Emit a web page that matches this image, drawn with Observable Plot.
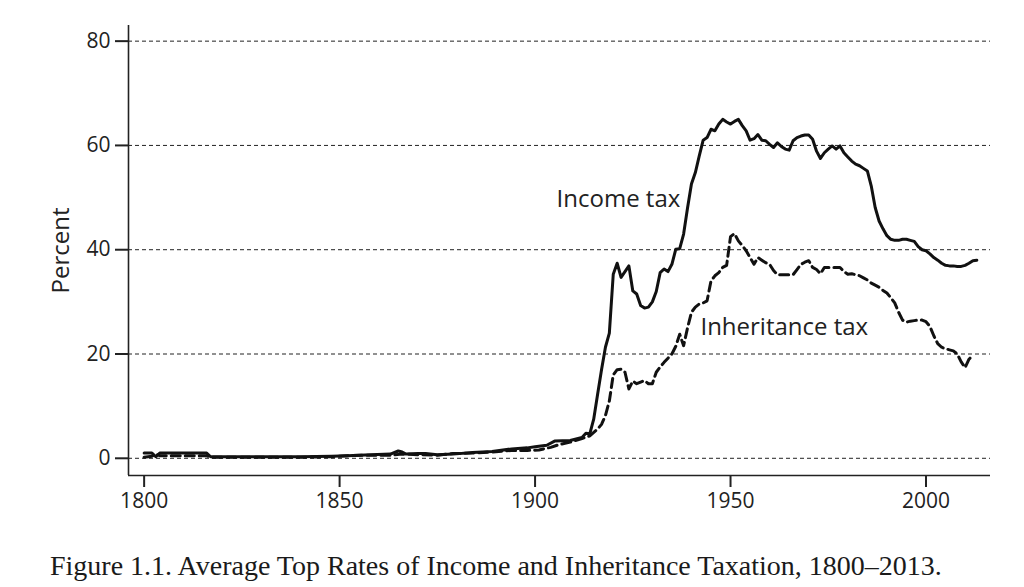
<!DOCTYPE html>
<html>
<head>
<meta charset="utf-8">
<script src="https://cdn.jsdelivr.net/npm/d3@7"></script>
<script src="https://cdn.jsdelivr.net/npm/@observablehq/plot@0.6"></script>
<style>
  html, body { margin: 0; padding: 0; background: #fff; }
  #wrap { position: relative; width: 1024px; height: 587px; }
  #caption {
    position: absolute; left: 50px; top: 549px;
    font-family: "Liberation Serif", serif; font-size: 28px; color: #1a1a1a;
    white-space: nowrap; line-height: 34px;
  }
</style>
</head>
<body>
<div id="wrap">
  <div id="chart"></div>
  <div id="caption">Figure 1.1. Average Top Rates of Income and Inheritance Taxation, 1800–2013.</div>
</div>
<script>
// Income tax: year / top rate (%)
const incomeYears = [1800,1802,1803,1804,1816,1817,1830,1840,1848,1852,1858,1863,1865,1866,1867,1870,1872,1875,1879,1884,1889,1894,1898,1900,1903,1905,1909,1912,1913,1914,1915,1916,1917,1918,1919,1920,1921,1922,1923,1924,1925,1926,1927,1928,1929,1930,1931,1932,1933,1934,1935,1936,1937,1938,1939,1940,1941,1942,1943,1944,1945,1946,1947,1948,1949,1950,1951,1952,1953,1954,1955,1956,1957,1958,1959,1960,1961,1962,1963,1964,1965,1966,1967,1968,1969,1970,1971,1972,1973,1974,1975,1976,1977,1978,1979,1980,1981,1982,1983,1984,1985,1986,1987,1988,1989,1990,1991,1992,1993,1994,1995,1996,1997,1998,1999,2000,2001,2002,2003,2004,2005,2006,2007,2008,2009,2010,2011,2012,2013];
const incomeValues = [1.0,1.0,0.3,1.0,1.0,0.3,0.3,0.3,0.4,0.5,0.7,0.8,1.4,1.2,0.8,0.9,0.9,0.7,0.8,1.1,1.3,1.8,2.0,2.2,2.5,3.3,3.4,4.0,4.8,4.7,7.5,12.3,17.0,21.3,24.0,35.3,37.4,34.7,35.8,36.9,32.1,31.5,29.3,28.8,29.0,30.0,32.0,35.6,36.3,35.8,37.2,40.1,40.2,43.0,48.0,52.6,54.8,58.0,61.0,61.5,63.1,62.8,64.1,65.0,64.5,64.1,64.6,65.0,63.8,62.8,61.0,61.3,62.1,61.0,60.9,60.2,59.6,60.5,59.8,59.3,59.1,60.9,61.5,61.8,62.0,62.0,61.2,58.9,57.5,58.6,59.3,59.9,59.3,59.9,58.6,57.8,57.0,56.4,56.1,55.6,55.1,52.2,48.1,45.5,44.0,42.7,42.0,41.8,41.8,42.0,42.0,41.8,41.6,40.6,40.0,39.8,39.2,38.5,38.0,37.4,37.0,36.9,36.9,36.8,36.8,37.0,37.4,37.9,38.0];

// Inheritance tax: year / top rate (%)
const inheritYears = [1800,1802,1803,1804,1816,1817,1830,1840,1848,1852,1858,1863,1866,1870,1875,1879,1884,1889,1894,1898,1901,1904,1906,1909,1912,1914,1916,1917,1918,1919,1920,1921,1922,1923,1924,1925,1926,1927,1928,1929,1930,1931,1932,1933,1934,1935,1936,1937,1938,1939,1940,1941,1942,1943,1944,1945,1946,1947,1948,1949,1950,1951,1952,1953,1954,1955,1956,1957,1958,1959,1960,1961,1962,1963,1964,1965,1966,1967,1968,1969,1970,1971,1972,1973,1974,1975,1976,1977,1978,1979,1980,1981,1982,1983,1984,1985,1986,1987,1988,1989,1990,1991,1992,1993,1994,1995,1996,1997,1998,1999,2000,2001,2002,2003,2004,2005,2006,2007,2008,2009,2010,2011,2012];
const inheritValues = [0.2,0.4,0.8,0.5,0.5,0.2,0.2,0.2,0.3,0.5,0.6,0.6,0.8,0.7,0.6,0.9,1.0,1.2,1.5,1.5,1.6,2.1,2.6,3.1,3.8,4.3,5.6,6.5,8.2,11.0,16.0,17.0,17.1,16.5,13.3,14.8,14.3,14.6,14.9,14.3,14.3,16.5,17.5,18.4,19.2,20.0,21.5,23.8,21.6,25.0,28.0,29.0,29.6,29.8,30.2,34.0,35.0,35.6,36.6,37.0,42.5,43.1,41.7,40.8,39.8,38.5,37.2,38.5,38.0,37.5,37.2,36.0,35.2,35.2,35.2,35.2,35.2,36.2,37.2,37.6,37.9,36.6,36.2,35.4,36.6,36.6,36.6,36.6,36.6,35.8,35.3,35.4,35.2,35.0,34.6,34.2,33.6,33.2,32.8,32.2,31.7,30.8,29.8,28.0,26.5,26.1,26.3,26.4,26.5,26.5,26.2,25.3,23.5,22.0,21.3,21.0,20.8,20.6,20.0,18.5,17.4,19.0,19.8];

const xTicks = [1800, 1850, 1900, 1950, 2000];
const yTicks = [0, 20, 40, 60, 80];
const xDomain = [1796, 2016.5];
const yDomain = [-3.3, 83];

const seriesLabels = ["Income tax", "Inheritance tax"];
const labelYears = [1905.5, 1942.3];
const labelValues = [49.7, 25.1];

const income = incomeYears.map((y, i) => ({year: y, value: incomeValues[i]}));
const inherit = inheritYears.map((y, i) => ({year: y, value: inheritValues[i]}));
const labels = seriesLabels.map((t, i) => ({text: t, year: labelYears[i], value: labelValues[i]}));

const ink = "#222";

const chart = Plot.plot({
  width: 1024,
  height: 530,
  marginLeft: 128,
  marginRight: 34,
  marginTop: 25,
  marginBottom: 55,
  style: {fontFamily: "'Open Sans', sans-serif", fontSize: "21px", color: ink, background: "#fff"},
  x: {domain: xDomain},
  y: {domain: yDomain},
  marks: [
    Plot.gridY(yTicks, {stroke: ink, strokeOpacity: 1, strokeWidth: 1, strokeDasharray: "4,3"}),
    Plot.ruleX([xDomain[0]], {stroke: ink, strokeWidth: 1.6}),
    Plot.ruleY([yDomain[0]], {stroke: ink, strokeWidth: 1.6}),
    Plot.axisY(yTicks, {tickSize: 13, tickPadding: 5, tickFormat: "d", label: null, strokeWidth: 2, stroke: ink, fill: ink}),
    Plot.axisX(xTicks, {tickSize: 12, tickPadding: 6, tickFormat: "d", label: null, strokeWidth: 2, stroke: ink, fill: ink}),
    Plot.line(inherit, {x: "year", y: "value", stroke: "#111", strokeWidth: 3, strokeDasharray: "9,5", strokeLinejoin: "round"}),
    Plot.line(income, {x: "year", y: "value", stroke: "#111", strokeWidth: 3, strokeLinejoin: "round"}),
    Plot.text(labels, {x: "year", y: "value", text: "text", textAnchor: "start", lineAnchor: "middle", fontSize: 24, fill: ink}),
    Plot.text(["Percent"], {frameAnchor: "left", dx: -67, rotate: -90, textAnchor: "middle", lineAnchor: "middle", fontSize: 24, fill: ink})
  ]
});
document.getElementById("chart").appendChild(chart);
</script>
</body>
</html>
